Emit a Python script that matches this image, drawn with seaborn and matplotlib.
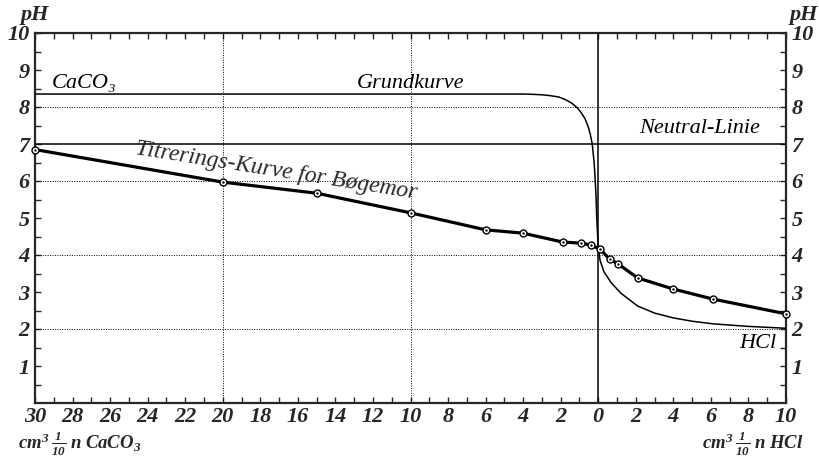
import numpy as np
import pandas as pd
import matplotlib
matplotlib.use("Agg")
import matplotlib.pyplot as plt
import seaborn as sns

# titration of beech mor (negative x = cm3 CaCO3, positive x = cm3 HCl)
titr_x = [-30, -20, -15, -10, -6, -4, -1.9, -0.9, -0.4, 0.1, 0.6, 1.05, 2.1, 4.0, 6.1, 10]
titr_ph = [6.85, 5.97, 5.67, 5.14, 4.68, 4.59, 4.35, 4.32, 4.27, 4.16, 3.89, 3.76, 3.38, 3.08, 2.81, 2.41]

# base curve (Grundkurve)
grund_x = [-30, -4.0, -3.6, -3.0, -2.6, -2.1, -1.75, -1.4, -1.1, -0.9, -0.7, -0.53,
           -0.42, -0.32, -0.22, -0.16, -0.12, -0.08, -0.05, 0.0,
           0.1, 0.3, 0.69, 1.2, 2.1, 3.0, 4.0, 5.0, 6.1, 8.0, 10]
grund_ph = [8.35, 8.35, 8.345, 8.33, 8.31, 8.27, 8.2, 8.1, 7.97, 7.84, 7.68, 7.46,
            7.25, 7.0, 6.5, 6.0, 5.6, 5.0, 4.7, 4.2,
            3.85, 3.55, 3.25, 2.97, 2.62, 2.43, 2.3, 2.21, 2.14, 2.07, 2.02]

x_ticks = list(range(-30, 11, 2))
x_labels = [str(abs(v)) for v in x_ticks]
y_ticks = list(range(1, 11))

sns.set_style("ticks")
plt.rcParams['font.family'] = ['Liberation Serif', 'DejaVu Serif']
plt.rcParams['mathtext.fontset'] = 'custom'
plt.rcParams['mathtext.rm'] = 'Liberation Serif:bold:italic'
plt.rcParams['mathtext.it'] = 'Liberation Serif:bold:italic'
plt.rcParams['mathtext.bf'] = 'Liberation Serif:bold:italic'

fig = plt.figure(figsize=(8.2, 4.58), dpi=100)
ax = fig.add_axes([35 / 820, 55 / 458, 751 / 820, 370 / 458])

titr = pd.DataFrame({'x': titr_x, 'pH': titr_ph})
grund = pd.DataFrame({'x': grund_x, 'pH': grund_ph})

# grid lines
for g in [2, 4, 6, 8]:
    ax.axhline(g, color='black', lw=0.7, ls=(0, (1, 1.5)), zorder=1)
for g in [-20, -10]:
    ax.axvline(g, color='black', lw=0.7, ls=(0, (1, 1.5)), zorder=1)
ax.axhline(7, color='black', lw=1.1, zorder=2)
ax.axvline(0, color='black', lw=1.1, zorder=2)

sns.lineplot(data=grund, x='x', y='pH', ax=ax, color='black', lw=1.1,
             sort=False, estimator=None, zorder=3)
sns.lineplot(data=titr, x='x', y='pH', ax=ax, color='black', lw=2.3,
             sort=False, estimator=None, zorder=4)
ax.plot(titr['x'], titr['pH'], ls='none', marker='o', ms=5, mfc='white',
        mec='black', mew=1.0, zorder=5, clip_on=False)
ax.plot(titr['x'], titr['pH'], ls='none', marker='.', ms=1.5, color='black',
        zorder=6, clip_on=False)

ax.set_xlim(-30, 10)
ax.set_ylim(0, 10)
ax.set_xticks(x_ticks)
ax.set_xticklabels(x_labels)
ax.set_xticks(range(-30, 11), minor=True)
ax.set_yticks(y_ticks)
ax.set_yticks(np.arange(0.5, 10, 0.5), minor=True)
ax.tick_params(which='both', direction='in', top=True, right=True,
               labelright=True, length=4, width=1.0, labelsize=16)
ax.tick_params(axis='x', pad=3)
ax.tick_params(axis='y', pad=4)
for lab in ax.get_xticklabels():
    lab.set_fontweight('bold')
    lab.set_fontstyle('italic')
for t in ax.yaxis.get_major_ticks():
    for lab in (t.label1, t.label2):
        lab.set_fontweight('bold')
        lab.set_fontstyle('italic')
for s in ax.spines.values():
    s.set_linewidth(1.6)
ax.set_xlabel('')
ax.set_ylabel('')

tk = dict(fontstyle='italic', fontsize=16, color='black')
ax.text(-29.1, 8.5, 'CaCO₃', **tk)
ax.text(-10.0, 8.52, 'Grundkurve', ha='center', **tk)
ax.text(8.63, 7.3, 'Neutral-Linie', ha='right', **tk)
ax.text(9.5, 1.5, 'HCl', ha='right', **tk)
ax.text(-24.7, 6.72, 'Titrerings-Kurve for Bøgemor', rotation=-9,
        rotation_mode='anchor', fontstyle='italic', fontsize=17)

fig.text(21 / 820, 1 - 15 / 458, 'pH', fontsize=16, fontweight='bold',
         fontstyle='italic', va='center')
fig.text(818 / 820, 1 - 15 / 458, 'pH', fontsize=16, fontweight='bold',
         fontstyle='italic', va='center', ha='right')
fig.text(18 / 820, 1 - 444 / 458, r'$cm^3\,\frac{1}{10}\;n\;CaCO_3$', fontsize=13.5,
         va='center')
fig.text(803 / 820, 1 - 444 / 458, r'$cm^3\,\frac{1}{10}\;n\;HCl$', fontsize=13.5,
         va='center', ha='right')

fig.savefig('out.png', dpi=100)
